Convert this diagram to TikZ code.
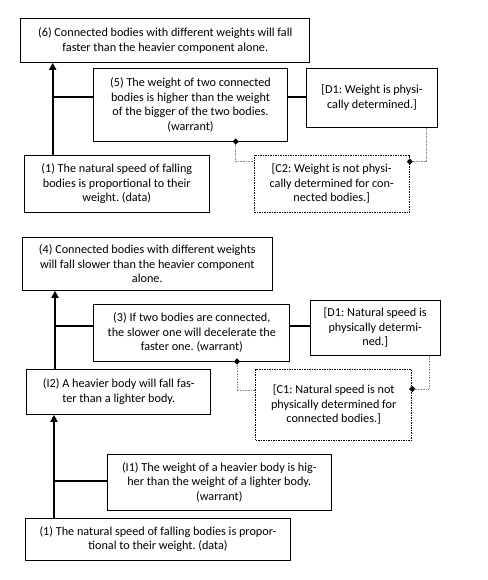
\documentclass[tikz,border=0pt]{standalone}
\usepackage{fontspec}
\setmainfont{Carlito}
\frenchspacing
\usetikzlibrary{arrows.meta}
\tikzset{
  box/.style={draw=black, line width=1pt, align=center, inner sep=0pt, text=black,
    font=\fontsize{12.2}{14.5}\selectfont},
  dbox/.style={box, dash pattern=on 1.5pt off 1pt},
  mainline/.style={line width=2.4pt, -{Triangle[length=7pt,width=7pt]}},
  joinline/.style={line width=2pt},
  dotline/.style={draw=black!45, line width=0.9pt, dash pattern=on 1pt off 0.6pt},
}
\newcommand{\dmd}[1]{\fill[black] (#1) ++(0,3.2) -- ++(3,-3.2) -- ++(-3,-3.2) -- ++(-3,3.2) -- cycle;}
\begin{document}
\begin{tikzpicture}[x=1pt,y=-1pt]
\useasboundingbox (0,0) rectangle (487,580);
% upper diagram
\node[box, minimum width=289.3pt, minimum height=44pt] (b6) at (165.3,40.3)
  {(6) Connected bodies with different weights will fall\\faster than the heavier component alone.};
\node[box, minimum width=193.6pt, minimum height=72.7pt] (b5) at (190.5,104.7)
  {(5) The weight of two connected\\bodies is higher than the weight\\of the bigger of the two bodies.\\(warrant)};
\node[box, minimum width=130.6pt, minimum height=59pt] (d1a) at (372,97.8)
  {[D1: Weight is physi-\\cally determined.]};
\node[box, minimum width=185pt, minimum height=57.3pt] (b1a) at (116.8,183.7)
  {(1) The natural speed of falling\\bodies is proportional to their\\weight. (data)};
\node[dbox, minimum width=155.3pt, minimum height=57.3pt] (c2) at (331.7,183.7)
  {[C2: Weight is not physi-\\cally determined for con-\\nected bodies.]};
\coordinate (j1) at (52.7,97.3);
\coordinate (k1) at (235.7,161.7);
\coordinate (m1) at (426,161.7);
\draw[mainline] (b1a.north -| j1) -- (b6.south -| j1);
\draw[joinline] (j1) -- (j1 -| b5.west);
\draw[joinline] (j1 -| b5.east) -- (j1 -| d1a.west);
\draw[dotline] (b5.south -| k1) -- (k1) -- (k1 -| c2.west);
\draw[dotline] (d1a.south -| m1) -- (m1) -- (m1 -| c2.east);
\dmd{b5.south -| k1}
\dmd{m1 -| c2.east}
% lower diagram
\node[box, minimum width=250pt, minimum height=53pt] (b4) at (147.3,263.8)
  {(4) Connected bodies with different weights\\will fall slower than the heavier component\\alone.};
\node[box, minimum width=196.3pt, minimum height=56.7pt] (b3) at (191.8,332.7)
  {(3) If two bodies are connected,\\the slower one will decelerate the\\faster one. (warrant)};
\node[box, minimum width=130.3pt, minimum height=55pt] (d1b) at (375.2,327.8)
  {[D1: Natural speed is\\physically determi-\\ned.]};
\node[box, minimum width=184.3pt, minimum height=45pt] (i2) at (118.8,391.8)
  {(I2) A heavier body will fall fas-\\ter than a lighter body.};
\node[dbox, minimum width=156pt, minimum height=70.7pt] (c1) at (333.7,404.7)
  {[C1: Natural speed is not\\physically determined for\\connected bodies.]};
\node[box, minimum width=224pt, minimum height=56pt] (i1) at (219.3,482.3)
  {(I1) The weight of a heavier body is hig-\\her than the weight of a lighter body.\\(warrant)};
\node[box, minimum width=264.6pt, minimum height=42pt] (b1b) at (158,539.3)
  {(1) The natural speed of falling bodies is propor-\\tional to their weight. (data)};
\coordinate (j2) at (55,326);
\coordinate (k2) at (237,390.7);
\coordinate (m2) at (429,389);
\coordinate (j3) at (54,480.7);
\draw[mainline] (i2.north -| j2) -- (b4.south -| j2);
\draw[joinline] (j2) -- (j2 -| b3.west);
\draw[joinline] (j2 -| b3.east) -- (j2 -| d1b.west);
\draw[dotline] (b3.south -| k2) -- (k2) -- (k2 -| c1.west);
\draw[dotline] (d1b.south -| m2) -- (m2) -- (m2 -| c1.east);
\dmd{b3.south -| k2}
\dmd{m2 -| c1.east}
\draw[mainline] (b1b.north -| j3) -- (i2.south -| j3);
\draw[joinline] (j3) -- (j3 -| i1.west);
\end{tikzpicture}
\end{document}
